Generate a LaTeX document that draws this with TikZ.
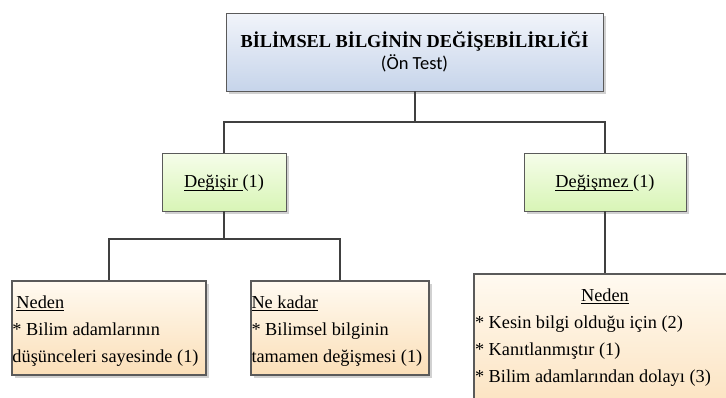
\documentclass[tikz,border=0pt]{standalone}
\usepackage{fontspec}
\setmainfont{Liberation Serif}
\newfontfamily\calibrilike{Carlito}
\usepackage{xcolor}
\usepackage{tikz}
\usetikzlibrary{shadows}

\definecolor{titletop}{RGB}{241,244,250}
\definecolor{titlebot}{RGB}{198,212,234}
\definecolor{cattop}{RGB}{246,253,234}
\definecolor{catbot}{RGB}{216,245,182}
\definecolor{reasontop}{RGB}{255,250,241}
\definecolor{reasonbot}{RGB}{251,223,184}
\definecolor{boxline}{RGB}{90,90,90}
\definecolor{linkline}{RGB}{64,64,64}

% underline set close to the baseline, through the descenders
\newcommand{\ulword}[1]{\leavevmode\setbox0=\hbox{#1}\rlap{\rule[-2.7pt]{\wd0}{0.9pt}}\box0}

\tikzset{
  boxshadow/.style = {drop shadow={shadow xshift=3pt, shadow yshift=-3pt, fill=black!40, opacity=0.45}}
}

\begin{document}
\begin{tikzpicture}[
    every node/.style = {anchor=north, font=\fontsize{18.3}{27}\selectfont},
    titlebox/.style = {draw=boxline, top color=titletop, bottom color=titlebot, boxshadow,
      minimum width=377pt, minimum height=78pt, align=center, font=\fontsize{18.3}{22}\selectfont},
    catbox/.style = {draw=boxline, top color=cattop, bottom color=catbot, boxshadow,
      minimum height=58pt, text height=15pt, text depth=3.5pt},
    reasonbox/.style = {draw=boxline, top color=reasontop, bottom color=reasonbot, boxshadow,
      align=flush left, inner xsep=1pt, inner ysep=8pt},
    edge from parent/.style = {draw=linkline, line width=2pt},
    level 1/.style = {sibling distance=381pt, level distance=100.7pt,
      edge from parent path={(\tikzparentnode.south) -- ++(0,-31pt) -| (\tikzchildnode.north)}},
    level 2/.style = {sibling distance=231pt, level distance=98.3pt,
      edge from parent path={(\tikzparentnode.south) -- ++(0,-28pt) -| (\tikzchildnode.north)}}
  ]
  \useasboundingbox (0,0) rectangle (726pt,-398pt);
  \clip (0,0) rectangle (726pt,-398pt);
  \node[titlebox] (title) at (414.5pt,-13pt)
    {{\bfseries BİLİMSEL BİLGİNİN DEĞİŞEBİLİRLİĞİ}\\{\calibrilike\fontsize{18.5}{22}\selectfont (Ön Test)}}
  child { node[catbox, minimum width=124pt] (degisir) {\ulword{Değişir }(1)}
    child { node[reasonbox, text width=192pt] (neden1)
      {\hspace*{4pt}\rule{0pt}{20pt}\ulword{Neden}\\
       {}* Bilim adamlarının\\
       düşünceleri sayesinde (1)} }
    child { node[reasonbox, text width=176pt] (nekadar)
      {\rule{0pt}{20pt}\ulword{Ne kadar}\\
       {}* Bilimsel bilginin\\
       tamamen değişmesi (1)} }
  }
  child { node[catbox, minimum width=162pt] (degismez) {\ulword{Değişmez }(1)}
    child { node[reasonbox, text width=260pt, yshift=7pt] (neden2)
      {\makebox[260pt]{\rule{0pt}{20pt}\ulword{Neden}}\\
       {}* Kesin bilgi olduğu için (2)\\
       {}* Kanıtlanmıştır (1)\\
       {}* Bilim adamlarından dolayı (3)\rule[-40pt]{0pt}{40pt}} }
  };
\end{tikzpicture}
\end{document}
